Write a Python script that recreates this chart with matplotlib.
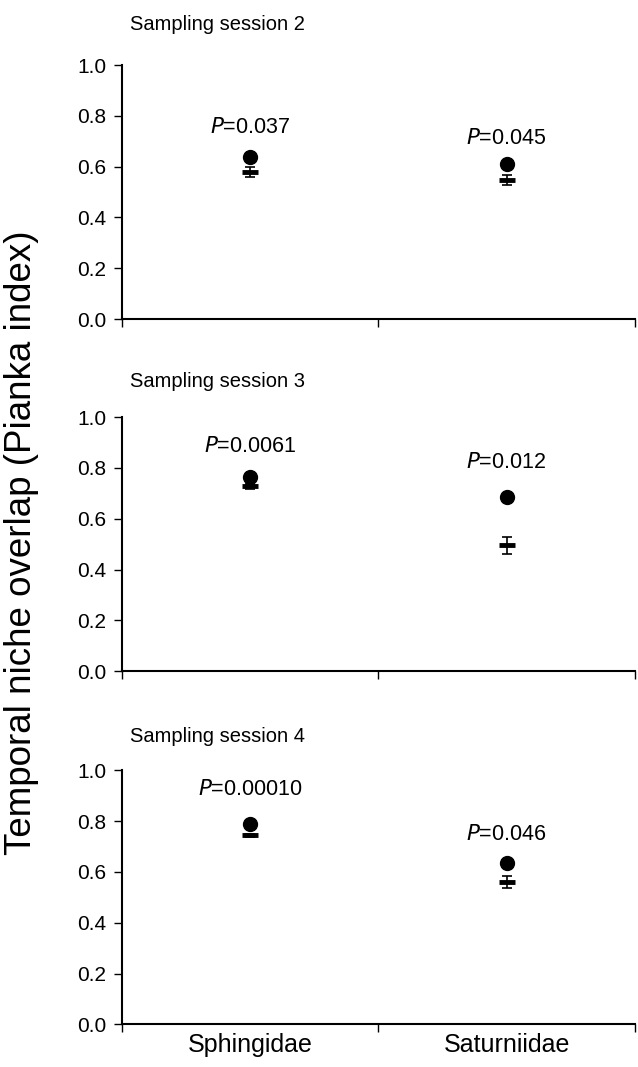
import matplotlib
matplotlib.use('Agg')
from matplotlib import pyplot as plt

plt.rcParams['font.family'] = ['Liberation Sans', 'DejaVu Sans']

families = ['Sphingidae', 'Saturniidae']
sessions = ['Sampling session 2', 'Sampling session 3', 'Sampling session 4']

# observed overlap (filled circles)
observed = [[0.64, 0.61], [0.763, 0.684], [0.79, 0.636]]
# null model mean and error
null_mean = [[0.58, 0.548], [0.728, 0.495], [0.745, 0.562]]
null_err = [[0.02, 0.02], [0.01, 0.035], [0.006, 0.024]]
# P value labels and their heights
p_text = [['0.037', '0.045'], ['0.0061', '0.012'], ['0.00010', '0.046']]
p_y = [[0.756, 0.71], [0.885, 0.82], [0.925, 0.747]]

fig = plt.figure(figsize=(6.38, 10.67), dpi=100, facecolor='white')

bottoms = [0.701, 0.371, 0.040]
title_off = [1.16, 1.14, 1.135]
xs = [0.5, 1.5]

for i in range(3):
    ax = fig.add_axes([0.191, bottoms[i], 0.804, 0.238])
    ax.errorbar(xs, null_mean[i], yerr=null_err[i], fmt='none', ecolor='black',
                elinewidth=1.2, capsize=3.6, capthick=1.2)
    ax.plot(xs, null_mean[i], '_', color='black', ms=11, mew=3.5)
    ax.plot(xs, observed[i], 'o', color='black', ms=10)
    for j in range(2):
        ax.text(xs[j], p_y[i][j], '$P$=' + p_text[i][j], ha='center', va='center',
                fontsize=15.5)
    ax.text(0.016, title_off[i], sessions[i], transform=ax.transAxes,
            ha='left', va='center', fontsize=14.5)
    ax.set_xlim(0, 2)
    ax.set_ylim(0, 1)
    ax.set_yticks([0, 0.2, 0.4, 0.6, 0.8, 1.0])
    ax.set_yticklabels(['0.0', '0.2', '0.4', '0.6', '0.8', '1.0'], fontsize=15)
    ax.set_xticks([0, 1, 2])
    ax.set_xticklabels([])
    ax.set_xticks(xs, minor=True)
    if i == 2:
        ax.set_xticklabels(families, minor=True, fontsize=18)
    ax.tick_params(axis='x', which='minor', length=0, pad=6)
    ax.tick_params(axis='both', which='major', direction='out', length=6,
                   width=1, color='black')
    ax.tick_params(axis='y', pad=5)
    for s in ['top', 'right']:
        ax.spines[s].set_visible(False)
    for s in ['left', 'bottom']:
        ax.spines[s].set_linewidth(1.5)
    ax.patch.set_alpha(0)

fig.text(0.034, 0.491, 'Temporal niche overlap (Pianka index)', rotation=90,
         ha='center', va='center', fontsize=26.5)

plt.savefig('out.png', dpi=100, facecolor='white')
